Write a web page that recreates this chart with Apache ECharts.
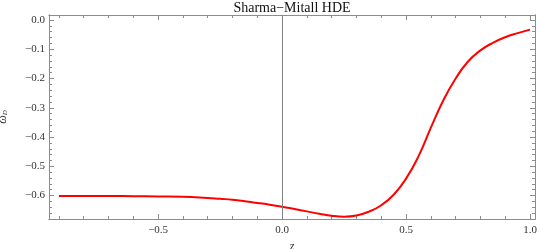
<!DOCTYPE html>
<html><head><meta charset="utf-8">
<script src="https://cdn.jsdelivr.net/npm/echarts@6/dist/echarts.min.js"></script>
<style>html,body{margin:0;padding:0;background:#fff}#c{width:540px;height:249px}</style>
</head><body><div id="c"></div>
<script>
const zValues = [-0.9,-0.8,-0.7,-0.6,-0.5,-0.4,-0.3,-0.25,-0.2,-0.15,-0.1,-0.05,0,0.05,0.1,0.15,0.2,0.25,0.3,0.35,0.4,0.45,0.5,0.55,0.6,0.65,0.7,0.75,0.8,0.85,0.9,0.95,1.0];
const omegaValues = [-0.601,-0.601,-0.601,-0.602,-0.603,-0.604,-0.608,-0.611,-0.614,-0.619,-0.625,-0.631,-0.638,-0.646,-0.654,-0.662,-0.669,-0.672,-0.668,-0.655,-0.633,-0.597,-0.542,-0.466,-0.368,-0.275,-0.200,-0.142,-0.104,-0.078,-0.059,-0.045,-0.033];
const xTickLabels = [-0.5,0,0.5,1.0];
const yTickLabels = [0,-0.1,-0.2,-0.3,-0.4,-0.5,-0.6];
const xMinor = [];
for (let i=-9;i<=10;i++) xMinor.push(i/10);
const yMinor = [];
for (let i=-34;i<=0;i++) yMinor.push(i/50);

const serif = '"Liberation Serif","DejaVu Serif",serif';
const frame = '#8c8c8c';
const XMIN=-0.94, XMAX=1.02, YMIN=-0.68, YMAX=0.017;
function fmt(v){ if (Math.abs(v)<1e-9) return '0.0'; return (v<0?'\u2212':'')+Math.abs(v).toFixed(1); }

function xAx(pos, ticks, len, labels, extra){
  return Object.assign({type:'value', position:pos, min:XMIN, max:XMAX,
    axisLine:{show:true, onZero:false, lineStyle:{color:frame, width:1}},
    axisTick:{show:true, inside:true, length:len, customValues:ticks, lineStyle:{color:frame}},
    axisLabel:{show:!!labels, customValues:labels||[], formatter:fmt, fontFamily:serif, fontSize:11, color:'#333', margin:6},
    splitLine:{show:false}}, extra||{});
}
function yAx(pos, ticks, len, labels, extra){
  return Object.assign({type:'value', position:pos, min:YMIN, max:YMAX,
    axisLine:{show:true, onZero:false, lineStyle:{color:frame, width:1}},
    axisTick:{show:true, inside:true, length:len, customValues:ticks, lineStyle:{color:frame}},
    axisLabel:{show:!!labels, customValues:labels||[], formatter:fmt, fontFamily:serif, fontSize:11, color:'#333', margin:4},
    splitLine:{show:false}}, extra||{});
}

const chart = echarts.init(document.getElementById('c'), null, {renderer:'canvas'});
chart.setOption({
  animation:false,
  title:{text:'Sharma\u2212Mitall HDE', left:292, textAlign:'center', top:1, padding:0,
    textStyle:{fontFamily:serif, fontSize:14, fontWeight:'normal', color:'#111'}},
  grid:{left:49, right:5, top:15, bottom:30, containLabel:false, outerBoundsMode:'none'},
  xAxis:[
    xAx('bottom', xTickLabels, 5, xTickLabels, {name:'z', nameLocation:'middle', nameGap:22,
      nameTextStyle:{fontFamily:serif, fontStyle:'italic', fontSize:12, color:'#333'}}),
    xAx('bottom', xMinor, 3, null),
    xAx('top', xTickLabels, 5, null),
    xAx('top', xMinor, 3, null)
  ],
  yAxis:[
    yAx('left', yTickLabels, 5, yTickLabels, {name:'{a|\u03c9}{b|D}', nameLocation:'middle', nameGap:40, nameRotate:90,
      nameTextStyle:{rich:{a:{fontFamily:serif, fontStyle:'italic', fontSize:12, color:'#333'}, b:{fontFamily:serif, fontStyle:'italic', fontSize:7, color:'#333', verticalAlign:'bottom', padding:[5,0,0,0]}}}}),
    yAx('left', yMinor, 3, null),
    yAx('right', yTickLabels, 5, null),
    yAx('right', yMinor, 3, null)
  ],
  series:[{
    type:'line', xAxisIndex:0, yAxisIndex:0,
    data: zValues.map((z,i)=>[z, omegaValues[i]]),
    smooth:0.5, showSymbol:false, symbol:'none',
    lineStyle:{color:'#ff0000', width:2},
    markLine:{silent:true, symbol:'none', label:{show:false},
      lineStyle:{color:'#808080', width:1, type:'solid'},
      data:[{xAxis:0}]}
  }]
});
</script></body></html>
